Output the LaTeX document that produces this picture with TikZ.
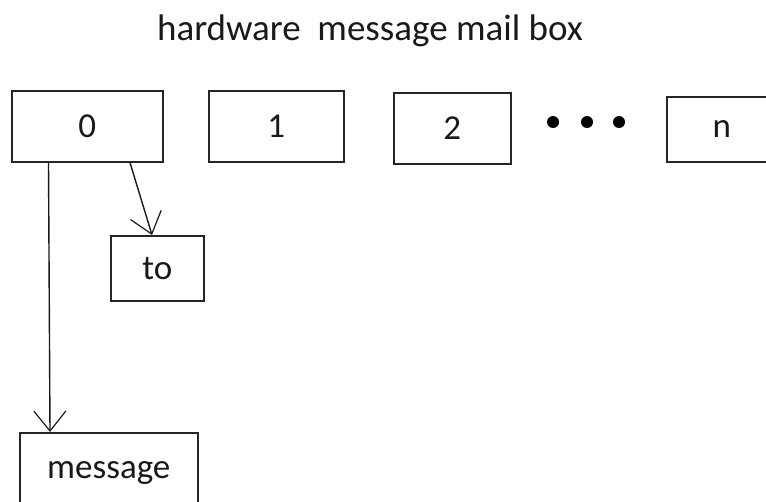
\documentclass[tikz,border=0pt]{standalone}
\usepackage{fontspec}
\setmainfont{Carlito}
\usetikzlibrary{arrows.meta}
\begin{document}
\begin{tikzpicture}[x=1pt,y=-1pt,
  every node/.style={font=\fontsize{35}{42}\selectfont, text=black!90},
  mbox/.style={draw=black!85, line width=1.6pt, inner sep=0pt, anchor=north west},
  arr/.style={draw=black!90, line width=1.4pt, -{Straight Barb[length=20pt,width=32pt,line width=1.2pt]}},
  dotc/.style={circle, fill=black, inner sep=0pt, minimum size=12pt}]
\useasboundingbox (0,0) rectangle (766,501);
\begin{scope}
\clip (0,0) rectangle (766,501);
\node[anchor=base, font=\fontsize{37}{44}\selectfont] (title) at (370,40) {hardware\ \ message mail box};
\node[mbox, minimum width=151pt, minimum height=71pt] (b0) at (11,90) {0};
\node[mbox, minimum width=135pt, minimum height=71pt] (b1) at (208,90) {1};
\node[mbox, minimum width=117pt, minimum height=71pt] (b2) at (393,92) {2};
\node[mbox, minimum width=110pt, minimum height=65pt, text width=94pt, align=center] (bn) at (666,96) {n};
\node[dotc] (d1) at (553,122) {};
\node[dotc] (d2) at (587,122) {};
\node[dotc] (d3) at (619,122) {};
\node[mbox, minimum width=93pt, minimum height=65pt] (to) at (110,235) {to};
\node[mbox, minimum width=178pt, minimum height=85pt, text depth=10pt] (msg) at (19,432) {message};
\draw[arr] ([xshift=37.5pt]b0.south west) -- ([xshift=31pt]msg.north west);
\draw[arr] ([xshift=119pt]b0.south west) -- ([xshift=42pt]to.north west);
\end{scope}
\end{tikzpicture}
\end{document}
